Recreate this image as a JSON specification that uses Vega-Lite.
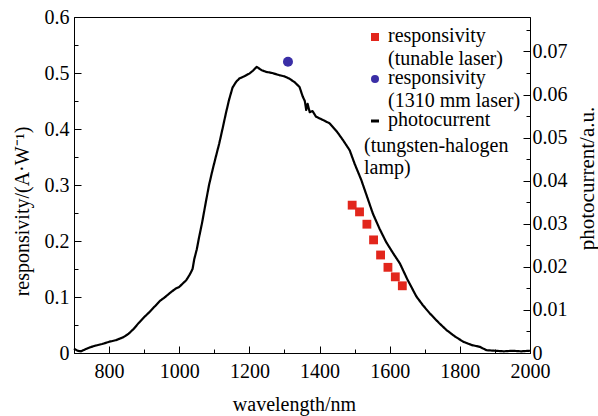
{
  "$schema": "https://vega.github.io/schema/vega-lite/v6.json",
  "width": 456,
  "height": 336,
  "autosize": {"type": "none"},
  "padding": {"left": 74, "top": 17, "right": 68, "bottom": 63},
  "background": "white",
  "config": {
    "font": "Liberation Serif",
    "view": {"stroke": "black", "strokeWidth": 1},
    "axis": {
      "domainColor": "black",
      "domainWidth": 1,
      "tickColor": "black",
      "labelColor": "black",
      "titleColor": "black",
      "labelFont": "Liberation Serif",
      "titleFont": "Liberation Serif",
      "labelFontSize": 20,
      "titleFontSize": 20,
      "titleFontWeight": "normal",
      "grid": false,
      "labelFlush": false,
      "labelOverlap": false
    }
  },
  "datasets": {
    "curve": [
      {"wavelength": 700, "photocurrent": 0.00104, "series": "lamp", "source": "tungsten-halogen lamp"},
      {"wavelength": 710, "photocurrent": 0.00052, "series": "lamp", "source": "tungsten-halogen lamp"},
      {"wavelength": 720, "photocurrent": 0.00039, "series": "lamp", "source": "tungsten-halogen lamp"},
      {"wavelength": 730, "photocurrent": 0.00078, "series": "lamp", "source": "tungsten-halogen lamp"},
      {"wavelength": 745, "photocurrent": 0.0013, "series": "lamp", "source": "tungsten-halogen lamp"},
      {"wavelength": 760, "photocurrent": 0.00169, "series": "lamp", "source": "tungsten-halogen lamp"},
      {"wavelength": 780, "photocurrent": 0.00208, "series": "lamp", "source": "tungsten-halogen lamp"},
      {"wavelength": 800, "photocurrent": 0.0026, "series": "lamp", "source": "tungsten-halogen lamp"},
      {"wavelength": 820, "photocurrent": 0.00299, "series": "lamp", "source": "tungsten-halogen lamp"},
      {"wavelength": 840, "photocurrent": 0.00364, "series": "lamp", "source": "tungsten-halogen lamp"},
      {"wavelength": 855, "photocurrent": 0.00442, "series": "lamp", "source": "tungsten-halogen lamp"},
      {"wavelength": 870, "photocurrent": 0.00559, "series": "lamp", "source": "tungsten-halogen lamp"},
      {"wavelength": 885, "photocurrent": 0.00702, "series": "lamp", "source": "tungsten-halogen lamp"},
      {"wavelength": 900, "photocurrent": 0.00832, "series": "lamp", "source": "tungsten-halogen lamp"},
      {"wavelength": 915, "photocurrent": 0.00949, "series": "lamp", "source": "tungsten-halogen lamp"},
      {"wavelength": 930, "photocurrent": 0.01079, "series": "lamp", "source": "tungsten-halogen lamp"},
      {"wavelength": 945, "photocurrent": 0.01209, "series": "lamp", "source": "tungsten-halogen lamp"},
      {"wavelength": 960, "photocurrent": 0.013, "series": "lamp", "source": "tungsten-halogen lamp"},
      {"wavelength": 975, "photocurrent": 0.01404, "series": "lamp", "source": "tungsten-halogen lamp"},
      {"wavelength": 990, "photocurrent": 0.01495, "series": "lamp", "source": "tungsten-halogen lamp"},
      {"wavelength": 1000, "photocurrent": 0.01534, "series": "lamp", "source": "tungsten-halogen lamp"},
      {"wavelength": 1010, "photocurrent": 0.01612, "series": "lamp", "source": "tungsten-halogen lamp"},
      {"wavelength": 1020, "photocurrent": 0.0169, "series": "lamp", "source": "tungsten-halogen lamp"},
      {"wavelength": 1030, "photocurrent": 0.0182, "series": "lamp", "source": "tungsten-halogen lamp"},
      {"wavelength": 1038, "photocurrent": 0.0195, "series": "lamp", "source": "tungsten-halogen lamp"},
      {"wavelength": 1043, "photocurrent": 0.02184, "series": "lamp", "source": "tungsten-halogen lamp"},
      {"wavelength": 1050, "photocurrent": 0.02405, "series": "lamp", "source": "tungsten-halogen lamp"},
      {"wavelength": 1057, "photocurrent": 0.02704, "series": "lamp", "source": "tungsten-halogen lamp"},
      {"wavelength": 1065, "photocurrent": 0.03016, "series": "lamp", "source": "tungsten-halogen lamp"},
      {"wavelength": 1076, "photocurrent": 0.0351, "series": "lamp", "source": "tungsten-halogen lamp"},
      {"wavelength": 1085, "photocurrent": 0.039, "series": "lamp", "source": "tungsten-halogen lamp"},
      {"wavelength": 1095, "photocurrent": 0.04251, "series": "lamp", "source": "tungsten-halogen lamp"},
      {"wavelength": 1105, "photocurrent": 0.04576, "series": "lamp", "source": "tungsten-halogen lamp"},
      {"wavelength": 1114, "photocurrent": 0.04862, "series": "lamp", "source": "tungsten-halogen lamp"},
      {"wavelength": 1124, "photocurrent": 0.05226, "series": "lamp", "source": "tungsten-halogen lamp"},
      {"wavelength": 1133, "photocurrent": 0.05564, "series": "lamp", "source": "tungsten-halogen lamp"},
      {"wavelength": 1142, "photocurrent": 0.05876, "series": "lamp", "source": "tungsten-halogen lamp"},
      {"wavelength": 1152, "photocurrent": 0.06162, "series": "lamp", "source": "tungsten-halogen lamp"},
      {"wavelength": 1162, "photocurrent": 0.06292, "series": "lamp", "source": "tungsten-halogen lamp"},
      {"wavelength": 1171, "photocurrent": 0.0637, "series": "lamp", "source": "tungsten-halogen lamp"},
      {"wavelength": 1185, "photocurrent": 0.06422, "series": "lamp", "source": "tungsten-halogen lamp"},
      {"wavelength": 1200, "photocurrent": 0.06487, "series": "lamp", "source": "tungsten-halogen lamp"},
      {"wavelength": 1210, "photocurrent": 0.06552, "series": "lamp", "source": "tungsten-halogen lamp"},
      {"wavelength": 1221, "photocurrent": 0.06643, "series": "lamp", "source": "tungsten-halogen lamp"},
      {"wavelength": 1235, "photocurrent": 0.06565, "series": "lamp", "source": "tungsten-halogen lamp"},
      {"wavelength": 1248, "photocurrent": 0.06526, "series": "lamp", "source": "tungsten-halogen lamp"},
      {"wavelength": 1265, "photocurrent": 0.065, "series": "lamp", "source": "tungsten-halogen lamp"},
      {"wavelength": 1286, "photocurrent": 0.06448, "series": "lamp", "source": "tungsten-halogen lamp"},
      {"wavelength": 1300, "photocurrent": 0.06422, "series": "lamp", "source": "tungsten-halogen lamp"},
      {"wavelength": 1314, "photocurrent": 0.0637, "series": "lamp", "source": "tungsten-halogen lamp"},
      {"wavelength": 1330, "photocurrent": 0.06279, "series": "lamp", "source": "tungsten-halogen lamp"},
      {"wavelength": 1343, "photocurrent": 0.06175, "series": "lamp", "source": "tungsten-halogen lamp"},
      {"wavelength": 1352, "photocurrent": 0.05954, "series": "lamp", "source": "tungsten-halogen lamp"},
      {"wavelength": 1358, "photocurrent": 0.0585, "series": "lamp", "source": "tungsten-halogen lamp"},
      {"wavelength": 1362, "photocurrent": 0.05642, "series": "lamp", "source": "tungsten-halogen lamp"},
      {"wavelength": 1366, "photocurrent": 0.05785, "series": "lamp", "source": "tungsten-halogen lamp"},
      {"wavelength": 1372, "photocurrent": 0.0559, "series": "lamp", "source": "tungsten-halogen lamp"},
      {"wavelength": 1380, "photocurrent": 0.05616, "series": "lamp", "source": "tungsten-halogen lamp"},
      {"wavelength": 1390, "photocurrent": 0.05486, "series": "lamp", "source": "tungsten-halogen lamp"},
      {"wavelength": 1410, "photocurrent": 0.05408, "series": "lamp", "source": "tungsten-halogen lamp"},
      {"wavelength": 1429, "photocurrent": 0.0533, "series": "lamp", "source": "tungsten-halogen lamp"},
      {"wavelength": 1450, "photocurrent": 0.05135, "series": "lamp", "source": "tungsten-halogen lamp"},
      {"wavelength": 1467, "photocurrent": 0.0494, "series": "lamp", "source": "tungsten-halogen lamp"},
      {"wavelength": 1486, "photocurrent": 0.04706, "series": "lamp", "source": "tungsten-halogen lamp"},
      {"wavelength": 1500, "photocurrent": 0.04394, "series": "lamp", "source": "tungsten-halogen lamp"},
      {"wavelength": 1519, "photocurrent": 0.04017, "series": "lamp", "source": "tungsten-halogen lamp"},
      {"wavelength": 1535, "photocurrent": 0.0364, "series": "lamp", "source": "tungsten-halogen lamp"},
      {"wavelength": 1552, "photocurrent": 0.03237, "series": "lamp", "source": "tungsten-halogen lamp"},
      {"wavelength": 1571, "photocurrent": 0.02886, "series": "lamp", "source": "tungsten-halogen lamp"},
      {"wavelength": 1590, "photocurrent": 0.02574, "series": "lamp", "source": "tungsten-halogen lamp"},
      {"wavelength": 1610, "photocurrent": 0.02314, "series": "lamp", "source": "tungsten-halogen lamp"},
      {"wavelength": 1629, "photocurrent": 0.0208, "series": "lamp", "source": "tungsten-halogen lamp"},
      {"wavelength": 1650, "photocurrent": 0.01716, "series": "lamp", "source": "tungsten-halogen lamp"},
      {"wavelength": 1676, "photocurrent": 0.01313, "series": "lamp", "source": "tungsten-halogen lamp"},
      {"wavelength": 1695, "photocurrent": 0.01105, "series": "lamp", "source": "tungsten-halogen lamp"},
      {"wavelength": 1714, "photocurrent": 0.00923, "series": "lamp", "source": "tungsten-halogen lamp"},
      {"wavelength": 1740, "photocurrent": 0.00702, "series": "lamp", "source": "tungsten-halogen lamp"},
      {"wavelength": 1762, "photocurrent": 0.00533, "series": "lamp", "source": "tungsten-halogen lamp"},
      {"wavelength": 1785, "photocurrent": 0.0039, "series": "lamp", "source": "tungsten-halogen lamp"},
      {"wavelength": 1810, "photocurrent": 0.0026, "series": "lamp", "source": "tungsten-halogen lamp"},
      {"wavelength": 1835, "photocurrent": 0.00182, "series": "lamp", "source": "tungsten-halogen lamp"},
      {"wavelength": 1857, "photocurrent": 0.00143, "series": "lamp", "source": "tungsten-halogen lamp"},
      {"wavelength": 1876, "photocurrent": 0.00065, "series": "lamp", "source": "tungsten-halogen lamp"},
      {"wavelength": 1900, "photocurrent": 0.00052, "series": "lamp", "source": "tungsten-halogen lamp"},
      {"wavelength": 1925, "photocurrent": 0.00039, "series": "lamp", "source": "tungsten-halogen lamp"},
      {"wavelength": 1950, "photocurrent": 0.00052, "series": "lamp", "source": "tungsten-halogen lamp"},
      {"wavelength": 1975, "photocurrent": 0.00039, "series": "lamp", "source": "tungsten-halogen lamp"},
      {"wavelength": 2000, "photocurrent": 0.00052, "series": "lamp", "source": "tungsten-halogen lamp"}
    ],
    "squares": [
      {"wavelength": 1493, "responsivity": 0.264, "series": "tunable"},
      {"wavelength": 1514, "responsivity": 0.252, "series": "tunable"},
      {"wavelength": 1535, "responsivity": 0.23, "series": "tunable"},
      {"wavelength": 1554, "responsivity": 0.202, "series": "tunable"},
      {"wavelength": 1574, "responsivity": 0.175, "series": "tunable"},
      {"wavelength": 1595, "responsivity": 0.153, "series": "tunable"},
      {"wavelength": 1616, "responsivity": 0.136, "series": "tunable"},
      {"wavelength": 1636, "responsivity": 0.12, "series": "tunable"}
    ],
    "circle": [
      {"wavelength": 1310, "responsivity": 0.52, "series": "1310"}
    ]
  },
  "encoding": {
    "x": {
      "field": "wavelength",
      "type": "quantitative",
      "scale": {"domain": [700, 2000], "nice": false, "zero": false},
      "axis": {
        "values": [800, 900, 1000, 1100, 1200, 1300, 1400, 1500, 1600, 1700, 1800, 1900, 2000],
        "labelExpr": "datum.value % 200 === 0 ? format(datum.value, 'd') : ''",
        "tickSize": {"condition": {"test": "datum.value % 200 === 0", "value": -7}, "value": -4},
        "labelPadding": 15,
        "title": "wavelength/nm",
        "titleX": 220,
        "titleY": 57,
        "titleBaseline": "alphabetic",
        "titleAlign": "center"
      }
    }
  },
  "layer": [
    {
      "data": {"name": "curve"},
      "mark": {"type": "line", "strokeWidth": 2.2, "strokeJoin": "round"},
      "encoding": {
        "y": {
          "field": "photocurrent",
          "type": "quantitative",
          "scale": {"domain": [0, 0.078], "nice": false},
          "axis": {
            "orient": "right",
            "values": [0, 0.005, 0.01, 0.015, 0.02, 0.025, 0.03, 0.035, 0.04, 0.045, 0.05, 0.055, 0.06, 0.065, 0.07, 0.075],
            "labelExpr": "round(datum.value * 1000) % 10 === 0 ? format(datum.value, '.2~f') : ''",
            "tickSize": {"condition": {"test": "round(datum.value * 1000) % 10 === 0", "value": -7}, "value": -4},
            "labelPadding": 9,
            "title": "photocurrent/a.u.",
            "titleFontSize": 21,
            "titleAngle": -90,
            "titleX": 63,
            "titleY": 161,
            "titleAlign": "center",
            "titleBaseline": "alphabetic"
          }
        },
        "color": {
          "field": "series",
          "type": "nominal",
          "scale": {"domain": ["tunable", "1310", "lamp"], "range": ["#e2261c", "#3a2ea6", "#000000"]},
          "legend": {
            "orient": "none",
            "legendX": 291,
            "legendY": 10,
            "title": null,
            "padding": 0,
            "rowPadding": -2,
            "symbolSize": 64,
            "labelFont": "Liberation Serif",
            "labelFontSize": 20,
            "labelColor": "black",
            "labelLimit": 0,
            "labelOffset": 3,
            "labelBaseline": "top",
            "labelExpr": "datum.value === 'tunable' ? ['responsivity', '(tunable laser)'] : datum.value === '1310' ? ['responsivity', '(1310 mm laser)'] : 'photocurrent'",
            "encode": {
              "labels": {"update": {"dy": {"value": -11}, "lineHeight": {"value": 22.5}}},
              "symbols": {"update": {"stroke": {"scale": "color", "field": "value"}, "strokeWidth": {"signal": "datum.value === 'lamp' ? 3 : 0"}}}
            }
          }
        },
        "shape": {
          "field": "series",
          "type": "nominal",
          "scale": {"domain": ["tunable", "1310", "lamp"], "range": ["square", "circle", "stroke"]}
        },
        "strokeDash": {
          "field": "source",
          "type": "nominal",
          "scale": {"domain": ["tungsten-halogen lamp"], "range": [[1, 0]]},
          "legend": {
            "orient": "none",
            "legendX": 270,
            "legendY": 109,
            "title": null,
            "padding": 0,
            "symbolOpacity": 0,
            "symbolSize": 0,
            "symbolStrokeWidth": 0,
            "labelOffset": 0,
            "labelFont": "Liberation Serif",
            "labelFontSize": 20,
            "labelColor": "black",
            "labelLimit": 0,
            "labelBaseline": "top",
            "labelExpr": "['(tungsten-halogen', 'lamp)']",
            "encode": {
              "labels": {"update": {"lineHeight": {"value": 22}}}
            }
          }
        }
      }
    },
    {
      "encoding": {
        "y": {
          "field": "responsivity",
          "type": "quantitative",
          "scale": {"domain": [0, 0.6], "nice": false},
          "axis": {
            "orient": "left",
            "values": [0, 0.05, 0.1, 0.15, 0.2, 0.25, 0.3, 0.35, 0.4, 0.45, 0.5, 0.55, 0.6],
            "labelExpr": "round(datum.value * 100) % 10 === 0 ? format(datum.value, '.1~f') : ''",
            "tickSize": {"condition": {"test": "round(datum.value * 100) % 10 === 0", "value": -7}, "value": -4},
            "labelPadding": 12,
            "title": "responsivity/(A·W⁻¹)",
            "titleAngle": -90,
            "titleX": -46,
            "titleY": 194,
            "titleAlign": "center",
            "titleBaseline": "alphabetic"
          }
        },
        "color": {"field": "series", "type": "nominal"},
        "shape": {"field": "series", "type": "nominal"}
      },
      "layer": [
        {
          "data": {"name": "squares"},
          "mark": {"type": "point", "filled": true, "opacity": 1, "size": 78}
        },
        {
          "data": {"name": "circle"},
          "mark": {"type": "point", "filled": true, "opacity": 1, "size": 100}
        }
      ]
    }
  ],
  "resolve": {"scale": {"y": "independent"}}
}
